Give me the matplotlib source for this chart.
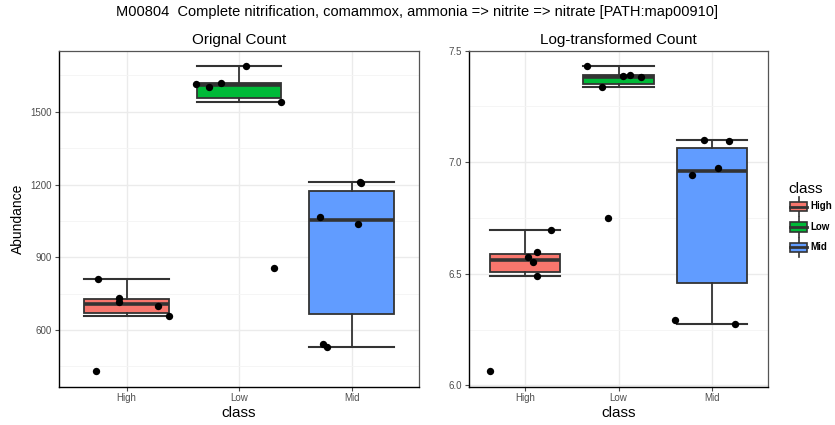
import numpy as np
import matplotlib
matplotlib.use("Agg")
import matplotlib.pyplot as plt
from matplotlib.patches import Rectangle, Patch
from matplotlib.lines import Line2D
from matplotlib.legend_handler import HandlerBase
from matplotlib.ticker import MultipleLocator

plt.rcParams['font.family'] = ['Liberation Sans', 'DejaVu Sans']

# ---- data ----
classes = ['High', 'Low', 'Mid']
high_counts = [810, 733, 716, 701, 659, 430]
low_counts = [1690, 1619, 1615, 1604, 1540, 856]
mid_counts = [1212, 1208, 1068, 1038, 542, 531]
colors = ['#F8766D', '#00BA38', '#619CFF']

# horizontal jitter offsets (category units)
jit_orig = [[-0.25, -0.07, -0.07, 0.28, 0.38, -0.27],
            [0.06, -0.16, -0.38, -0.27, 0.37, 0.31],
            [0.075, 0.08, -0.28, 0.06, -0.25, -0.22]]
jit_log = [[0.28, 0.13, 0.03, 0.08, 0.13, -0.38],
           [-0.34, 0.12, 0.05, 0.24, -0.18, -0.11],
           [-0.08, 0.18, 0.06, -0.21, -0.39, 0.25]]

title = "M00804  Complete nitrification, comammox, ammonia => nitrite => nitrate [PATH:map00910]"

counts = [np.array(high_counts, float), np.array(low_counts, float), np.array(mid_counts, float)]
logs = [np.log(c) for c in counts]

W, H = 835, 425
fig = plt.figure(figsize=(W / 100, H / 100), dpi=100)
ax1 = fig.add_axes([59 / W, 1 - 386.5 / H, 360 / W, 336 / H])
ax2 = fig.add_axes([469 / W, 1 - 386.5 / H, 299 / W, 336 / H])

edge = '#333333'


def draw(ax, data, jit, major, minor):
    pos = np.arange(1, len(classes) + 1)
    ax.set_axisbelow(True)
    ax.yaxis.set_major_locator(MultipleLocator(major))
    ax.yaxis.set_minor_locator(MultipleLocator(minor))
    ax.grid(which='major', color='#EBEBEB', lw=1.0)
    ax.grid(which='minor', axis='y', color='#F4F4F4', lw=0.6)
    bp = ax.boxplot(data, positions=pos, widths=0.75, whis=1.5, showfliers=False,
                    patch_artist=True, capwidths=0.75,
                    boxprops=dict(edgecolor=edge, linewidth=1.3),
                    whiskerprops=dict(color=edge, linewidth=1.3),
                    capprops=dict(color=edge, linewidth=1.5),
                    medianprops=dict(color=edge, linewidth=2.6), zorder=2)
    for patch, c in zip(bp['boxes'], colors):
        patch.set_facecolor(c)
    for i, (d, j) in enumerate(zip(data, jit)):
        ax.scatter(pos[i] + np.array(j), d, s=28, color='black', zorder=4, linewidths=0)
    ax.set_xlim(0.4, 3.6)
    lo = min(d.min() for d in data)
    hi = max(d.max() for d in data)
    pad = (hi - lo) * 0.05
    ax.set_ylim(lo - pad, hi + pad)
    ax.set_xticks(pos)
    ax.set_xticklabels(classes)
    ax.tick_params(axis='both', which='major', labelsize=7, colors='#4D4D4D', length=3, width=0.8, pad=2)
    ax.tick_params(axis='y', which='minor', length=0)
    for s in ['top', 'right']:
        ax.spines[s].set_color('#555555')
        ax.spines[s].set_linewidth(0.9)
    for s in ['left', 'bottom']:
        ax.spines[s].set_color('black')
        ax.spines[s].set_linewidth(1.0)
    ax.set_xlabel('class', fontsize=11, labelpad=2)


draw(ax1, counts, jit_orig, 300, 150)
draw(ax2, logs, jit_log, 0.5, 0.25)
ax1.yaxis.set_major_formatter(matplotlib.ticker.FuncFormatter(lambda v, p: f"{v:.0f}"))
ax2.yaxis.set_major_formatter(matplotlib.ticker.FuncFormatter(lambda v, p: f"{v:.1f}"))
ax1.set_ylabel('Abundance', fontsize=10, labelpad=4)
ax1.set_title('Orignal Count', fontsize=11, pad=5)
ax2.set_title('Log-transformed Count', fontsize=11, pad=5)
fig.text(0.5, 1 - 12 / H, title, ha='center', va='center', fontsize=10.5)


class BoxHandler(HandlerBase):
    def create_artists(self, legend, orig_handle, xdescent, ydescent, width, height, fontsize, trans):
        x0, y0 = -xdescent, -ydescent
        fc = orig_handle.get_facecolor()
        cx = x0 + width / 2
        arts = [
            Line2D([cx, cx], [y0, y0 + height * 0.25], color=edge, lw=1.2, transform=trans),
            Line2D([cx, cx], [y0 + height * 0.75, y0 + height], color=edge, lw=1.2, transform=trans),
            Rectangle((x0 + width * 0.06, y0 + height * 0.25), width * 0.88, height * 0.5,
                      facecolor=fc, edgecolor=edge, lw=1.2, transform=trans),
            Line2D([x0 + width * 0.06, x0 + width * 0.94], [y0 + height / 2] * 2, color=edge, lw=2.0,
                   transform=trans),
        ]
        return arts


handles = [Patch(facecolor=c, label=l) for c, l in zip(colors, classes)]
leg = fig.legend(handles=handles, labels=classes, loc='upper left', bbox_to_anchor=(784 / W, 1 - 177 / H),
                 frameon=False, title='class', title_fontsize=11, prop={'size': 7, 'weight': 'bold'},
                 handler_map={Patch: BoxHandler()}, handlelength=2.0, handleheight=2.7,
                 handletextpad=0.2, labelspacing=0.1, borderpad=0, alignment='left')

fig.savefig('out.png', dpi=100)
